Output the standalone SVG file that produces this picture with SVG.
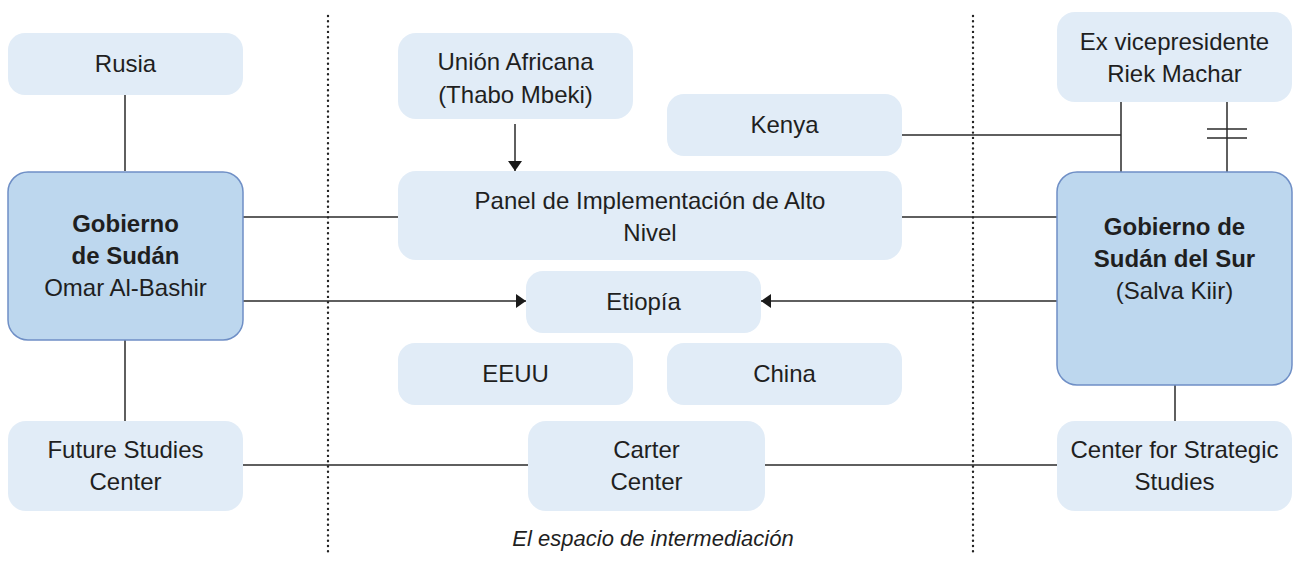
<svg xmlns="http://www.w3.org/2000/svg" width="1294" height="576" viewBox="0 0 1294 576">
<style>
.lb{fill:#e1ecf7;stroke:none}
.db{fill:#bdd7ee;stroke:#6f8fc6;stroke-width:1.5}
text{font-family:"Liberation Sans",Arial,sans-serif;font-size:24px;fill:#1f1f1f;text-anchor:middle}
.b{font-weight:bold}
.it{font-style:italic;font-size:22px}
.ln{stroke:#2a2a2a;stroke-width:1.5;fill:none}
.dot{stroke:#222;stroke-width:2.4;stroke-linecap:round;stroke-dasharray:0 5.3;fill:none}
</style>
<defs>
<marker id="ah" viewBox="0 0 10 14" refX="10" refY="7" markerWidth="10" markerHeight="14" markerUnits="userSpaceOnUse" orient="auto">
<path d="M0,0 L10,7 L0,14 Z" fill="#1a1a1a"/>
</marker>
</defs>
<g id="separators">
<line class="dot" x1="328" y1="16" x2="328" y2="553"/>
<line class="dot" x1="973" y1="16" x2="973" y2="553"/>
</g>
<g id="connectors">
<line class="ln" x1="125" y1="95" x2="125" y2="171"/>
<line class="ln" x1="125" y1="340" x2="125" y2="421"/>
<line class="ln" x1="243" y1="217" x2="398" y2="217"/>
<line class="ln" x1="902" y1="217" x2="1057" y2="217"/>
<line class="ln" x1="243" y1="301" x2="526" y2="301" marker-end="url(#ah)"/>
<line class="ln" x1="1057" y1="301" x2="761" y2="301" marker-end="url(#ah)"/>
<line class="ln" x1="515" y1="124" x2="515" y2="171" marker-end="url(#ah)"/>
<line class="ln" x1="902" y1="135" x2="1121" y2="135"/>
<line class="ln" x1="1121" y1="102" x2="1121" y2="172"/>
<line class="ln" x1="1227" y1="102" x2="1227" y2="172"/>
<line class="ln" x1="1207" y1="129" x2="1247" y2="129"/>
<line class="ln" x1="1207" y1="138" x2="1247" y2="138"/>
<line class="ln" x1="1175" y1="385" x2="1175" y2="421"/>
<line class="ln" x1="243" y1="465" x2="528" y2="465"/>
<line class="ln" x1="765" y1="465" x2="1057" y2="465"/>
</g>
<g id="rusia"><rect class="lb" x="8" y="33" width="235" height="62" rx="17"/><text x="125.5" y="72">Rusia</text></g>
<g id="gob-sudan"><rect class="db" x="8" y="172" width="235" height="168" rx="20"/>
<text class="b" x="125.5" y="232">Gobierno</text><text class="b" x="125.5" y="264">de Sudán</text><text x="125.5" y="296">Omar Al-Bashir</text></g>
<g id="future"><rect class="lb" x="8" y="421" width="235" height="90" rx="18"/><text x="125.5" y="458">Future Studies</text><text x="125.5" y="490">Center</text></g>
<g id="ua"><rect class="lb" x="398" y="33" width="235" height="86" rx="18"/><text x="515.5" y="70">Unión Africana</text><text x="515.5" y="103">(Thabo Mbeki)</text></g>
<g id="kenya"><rect class="lb" x="667" y="94" width="235" height="62" rx="17"/><text x="784.5" y="133">Kenya</text></g>
<g id="panel"><rect class="lb" x="398" y="171" width="504" height="89" rx="18"/><text x="650" y="209">Panel de Implementación de Alto</text><text x="650" y="241">Nivel</text></g>
<g id="etiopia"><rect class="lb" x="526" y="271" width="235" height="62" rx="17"/><text x="643.5" y="310">Etiopía</text></g>
<g id="eeuu"><rect class="lb" x="398" y="343" width="235" height="62" rx="17"/><text x="515.5" y="382">EEUU</text></g>
<g id="china"><rect class="lb" x="667" y="343" width="235" height="62" rx="17"/><text x="784.5" y="382">China</text></g>
<g id="carter"><rect class="lb" x="528" y="421" width="237" height="90" rx="18"/><text x="646.5" y="458">Carter</text><text x="646.5" y="490">Center</text></g>
<g id="machar"><rect class="lb" x="1057" y="12" width="235" height="90" rx="18"/><text x="1174.5" y="50">Ex vicepresidente</text><text x="1174.5" y="82">Riek Machar</text></g>
<g id="gob-sur"><rect class="db" x="1057" y="172" width="235" height="213" rx="20"/>
<text class="b" x="1174.5" y="235">Gobierno de</text><text class="b" x="1174.5" y="267">Sudán del Sur</text><text x="1174.5" y="299">(Salva Kiir)</text></g>
<g id="css"><rect class="lb" x="1057" y="421" width="235" height="90" rx="18"/><text x="1174.5" y="458">Center for Strategic</text><text x="1174.5" y="490">Studies</text></g>
<g id="caption"><text class="it" x="653" y="546">El espacio de intermediación</text></g>
</svg>
